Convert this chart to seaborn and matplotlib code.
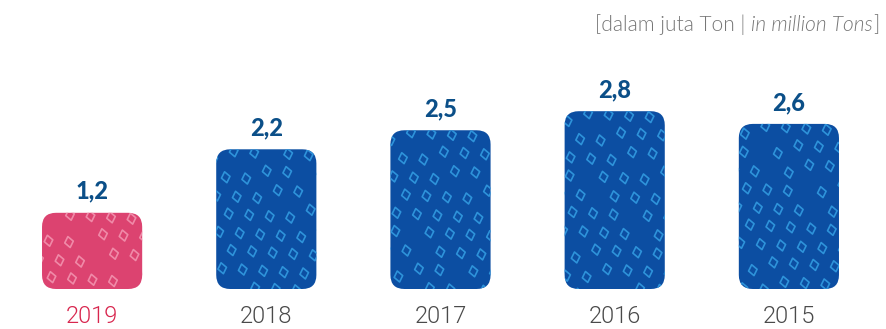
import numpy as np
import pandas as pd
import seaborn as sns
import matplotlib
matplotlib.use("Agg")
import matplotlib.pyplot as plt
from matplotlib.patches import FancyBboxPatch
from matplotlib.path import Path

# Production volume per year (million tons)
years = ["2019", "2018", "2017", "2016", "2015"]
values = [1.2, 2.2, 2.5, 2.8, 2.6]
value_labels = ["1,2", "2,2", "2,5", "2,8", "2,6"]

bar_colors = ["#DC4370", "#0C4EA2", "#0C4EA2", "#0C4EA2", "#0C4EA2"]
motif_colors = ["#F08AA8", "#2E93DA", "#2E93DA", "#2E93DA", "#2E93DA"]
year_colors = ["#D8264E", "#4A4A4A", "#4A4A4A", "#4A4A4A", "#4A4A4A"]
value_color = "#0B4F88"

sns.set_theme(style="white")
plt.rcParams["font.family"] = ["Lato", "DejaVu Sans"]

W, H = 886, 329
fig = plt.figure(figsize=(W / 100, H / 100), dpi=100)
px_per_unit = 63.5
base_px = 289
ax = fig.add_axes([5 / W, (H - base_px) / H, 871 / W, base_px / H])

df = pd.DataFrame({"year": years, "value": values})
sns.barplot(data=df, x="year", y="value", hue="year", palette=bar_colors,
            width=0.575, legend=False, ax=ax, saturation=1)
ax.set_xlim(-0.5, 4.5)
ax.set_ylim(0, base_px / px_per_unit)
ax.axis("off")

x_per_px = 5 / 871
aspect = (1 / px_per_unit) / x_per_px

# slightly tilted diamond outline used for the fabric motif
ang = np.deg2rad(12)
pts = np.array([[0, 1], [0.78, 0], [0, -1], [-0.78, 0], [0, 1]])
rot = np.array([[np.cos(ang), -np.sin(ang)], [np.sin(ang), np.cos(ang)]])
diamond = Path(pts @ rot.T, closed=True)

for i, bar in enumerate(list(ax.patches)):
    x0, w, h = bar.get_x(), bar.get_width(), bar.get_height()
    bar.set_visible(False)
    rounded = FancyBboxPatch((x0, 0), w, h,
                             boxstyle=f"round,pad=0,rounding_size={14 * x_per_px}",
                             mutation_aspect=aspect,
                             facecolor=bar_colors[i], edgecolor="none", zorder=2)
    ax.add_patch(rounded)

    # diamond motif laid out on a staggered grid across the bar face
    xs, ys = [], []
    step_x, step_y = 22 * x_per_px, 19.5 / px_per_unit
    for r in range(int(h / step_y) + 2):
        for c in range(int(w / step_x) + 2):
            jx = (((r * 37 + c * 53 + i * 11) % 9) - 4) * 1.5 * x_per_px
            jy = (((r * 29 + c * 41 + i * 7) % 7) - 3) * 1.3 / px_per_unit
            xx = x0 + (c + 0.5 * (r % 2)) * step_x + jx
            yy = h - (r + 0.3) * step_y + jy
            xs.append(xx)
            ys.append(yy)
    sc = ax.scatter(xs, ys, marker=diamond, s=62, facecolors="none",
                    edgecolors=motif_colors[i], linewidths=1.2, zorder=3)
    sc.set_clip_path(rounded)

    ax.text(x0 + w / 2, h + 14 / px_per_unit, value_labels[i], ha="center",
            va="baseline", fontsize=17, fontweight="black", color=value_color)
    ax.text(x0 + w / 2, -39 / px_per_unit, years[i], ha="center",
            va="bottom", fontsize=17, fontweight=300, color=year_colors[i],
            family=["Roboto", "DejaVu Sans"])

# unit note in the top-right corner, with the English part in italics
renderer = fig.canvas.get_renderer()
pieces = [("[dalam juta Ton | ", "normal"), ("in million Tons", "italic"), ("]", "normal")]
texts = []
for s, style in pieces:
    t = fig.text(0, 1 - 31 / H, s, fontsize=15, style=style, color="#777777",
                 fontweight=300, ha="left", va="baseline")
    texts.append(t)
widths = [t.get_window_extent(renderer).width for t in texts]
x = 879 - sum(widths)
for t, wd in zip(texts, widths):
    t.set_x(x / W)
    x += wd

fig.savefig("out.png", dpi=100)
